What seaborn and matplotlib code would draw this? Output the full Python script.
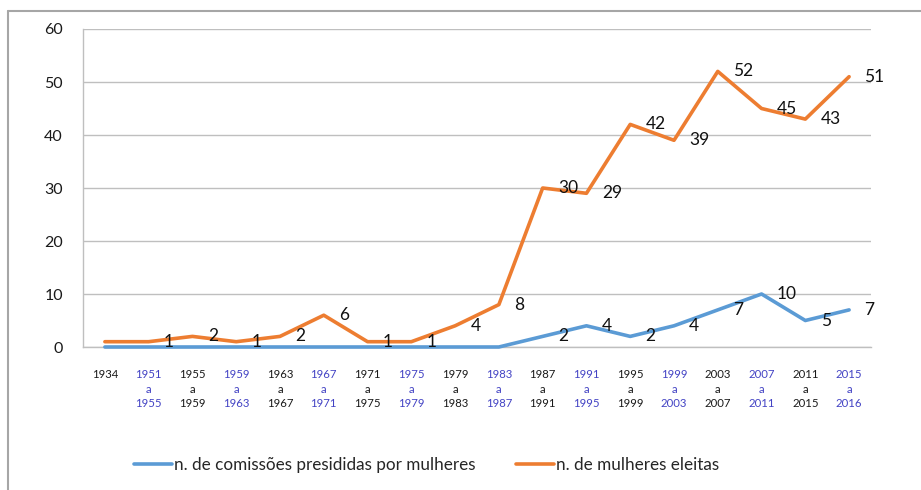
import matplotlib
matplotlib.use("Agg")
import matplotlib.pyplot as plt
from matplotlib.lines import Line2D
from matplotlib.ticker import FixedLocator, MultipleLocator
import numpy as np
import pandas as pd
import seaborn as sns

# Legislative periods (x categories)
periods = ["1934", "1951\na\n1955", "1955\na\n1959", "1959\na\n1963", "1963\na\n1967",
           "1967\na\n1971", "1971\na\n1975", "1975\na\n1979", "1979\na\n1983", "1983\na\n1987",
           "1987\na\n1991", "1991\na\n1995", "1995\na\n1999", "1999\na\n2003", "2003\na\n2007",
           "2007\na\n2011", "2011\na\n2015", "2015\na\n2016"]

comissoes = [0, 0, 0, 0, 0, 0, 0, 0, 0, 0, 2, 4, 2, 4, 7, 10, 5, 7]
eleitas = [1, 1, 2, 1, 2, 6, 1, 1, 4, 8, 30, 29, 42, 39, 52, 45, 43, 51]

serie_comissoes = "n. de comissões presididas por mulheres"
serie_eleitas = "n. de mulheres eleitas"

label_colors = ["#1a1a1a", "#4343c4"]
blue = "#5B9BD5"
orange = "#ED7D31"
grid_gray = "#bfbfbf"

sns.set_theme(style="white")
plt.rcParams["font.family"] = ["Lato", "DejaVu Sans"]

n = len(periods)
x = np.arange(n)
df = pd.DataFrame({
    "x": np.concatenate([x, x]),
    "valor": comissoes + eleitas,
    "serie": [serie_comissoes] * n + [serie_eleitas] * n,
})

fig = plt.figure(figsize=(9.21, 4.90), dpi=100)
ax = fig.add_axes([83 / 921, 1 - 347 / 490, 788 / 921, 318 / 490])

sns.lineplot(data=df, x="x", y="valor", hue="serie", palette=[blue, orange],
             linewidth=2.6, sort=False, ax=ax, legend=True)
for ln in ax.lines:
    ln.set_zorder(3)
    ln.set_clip_on(False)

ax.set_xlim(-0.5, n - 0.5)
ax.set_ylim(0, 60)
ax.yaxis.set_major_locator(MultipleLocator(10))
ax.grid(axis="y", color=grid_gray, linewidth=1.0)
ax.set_axisbelow(True)
for side in ["top", "right"]:
    ax.spines[side].set_visible(False)
for side in ["left", "bottom"]:
    ax.spines[side].set_color(grid_gray)
    ax.spines[side].set_linewidth(1.0)
    ax.spines[side].set_zorder(1)

# category labels centred, tick marks on category boundaries
ax.set_xticks(x)
ax.set_xticklabels(periods, fontsize=8.2, linespacing=1.4)
ax.tick_params(axis="x", which="major", length=0, pad=16)
ax.xaxis.set_minor_locator(FixedLocator(np.arange(-0.5, n, 1.0)))
ax.tick_params(axis="x", which="minor", length=5.5, width=1.0, color=grid_gray, direction="out")
for i, t in enumerate(ax.get_xticklabels()):
    t.set_color(label_colors[i % 2])
ax.tick_params(axis="y", length=4.5, width=1.0, color=grid_gray, pad=10, labelsize=11.5,
               labelcolor="#1a1a1a")
ax.set_xlabel("")
ax.set_ylabel("")

# data labels to the right of each point
for i, v in enumerate(eleitas):
    if i == 0:
        continue
    ax.annotate(str(v), (x[i], v), xytext=(11, 0), textcoords="offset points",
                ha="left", va="center", fontsize=12.5, color="#111111")
for i, v in enumerate(comissoes):
    if v == 0:
        continue
    ax.annotate(str(v), (x[i], v), xytext=(11, 0), textcoords="offset points",
                ha="left", va="center", fontsize=12.5, color="#111111")

handles, labels = ax.get_legend_handles_labels()
ax.get_legend().remove()
fig.legend(handles, labels, loc="center", bbox_to_anchor=(0.463, 1 - 465 / 490), ncol=2,
           frameon=False, fontsize=12.3, handlelength=2.2, handletextpad=0.12,
           columnspacing=2.4)

# outer chart frame
frame_color = "#a6a6a6"
fig.add_artist(Line2D([8 / 921, 8 / 921], [0, 1 - 11 / 490], transform=fig.transFigure,
                      color=frame_color, linewidth=1.5))
fig.add_artist(Line2D([8 / 921, 1], [1 - 11 / 490, 1 - 11 / 490], transform=fig.transFigure,
                      color=frame_color, linewidth=1.5))

fig.savefig("out.png", dpi=100)
